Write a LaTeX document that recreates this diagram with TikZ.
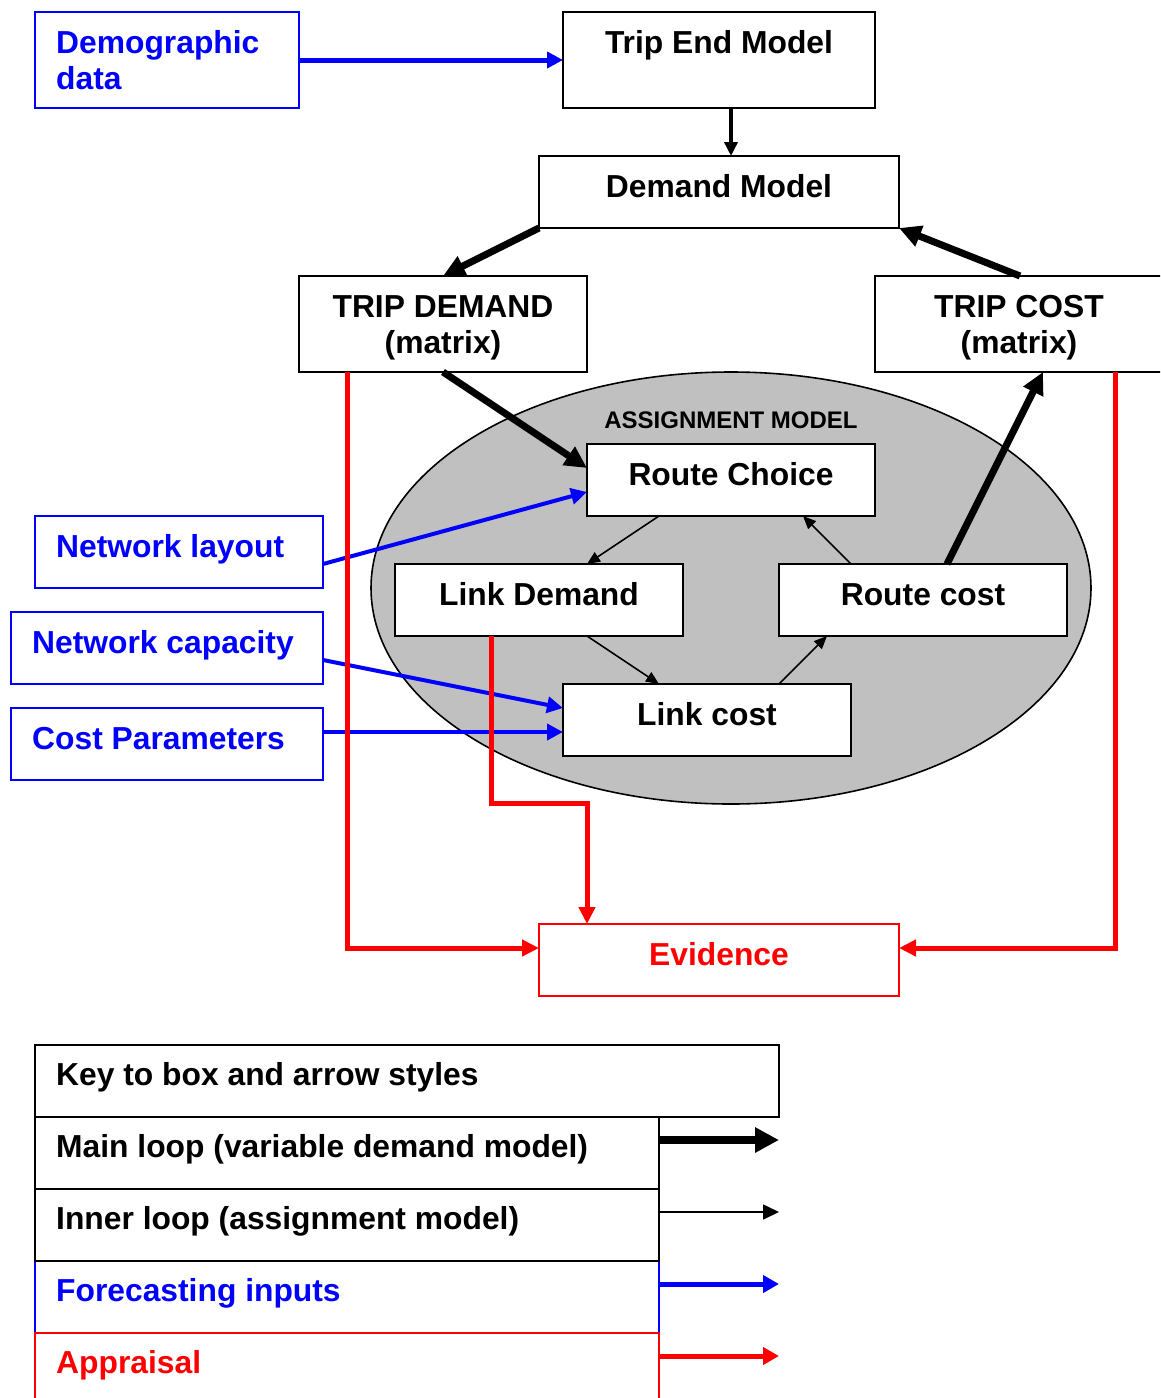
\documentclass[tikz,border=0pt]{standalone}
\usepackage{fontspec}
\setmainfont{Liberation Sans}
\usetikzlibrary{arrows.meta,shapes.geometric}
\definecolor{pblue}{RGB}{0,0,255}
\definecolor{pred}{RGB}{255,0,0}
\definecolor{egray}{RGB}{192,192,192}
\begin{document}
\begin{tikzpicture}[x=1pt,y=-1pt,
  box/.style={draw=black, line width=2.2pt, fill=white, inner sep=0pt, outer sep=0pt, anchor=north west},
  bbox/.style={box, draw=pblue},
  rbox/.style={box, draw=pred},
  txt/.style={font=\fontsize{31.8}{36}\selectfont\bfseries, inner sep=0pt, anchor=base},
  txtl/.style={txt, anchor=base west},
  thickarr/.style={line width=7pt, -{Triangle[length=22pt,width=21pt]}},
  medarr/.style={line width=3.5pt, -{Triangle[length=14pt,width=13pt]}},
  thinarr/.style={line width=1.6pt, -{Triangle[length=13pt,width=11pt]}},
  bluearr/.style={draw=pblue, line width=4pt, -{Triangle[length=16pt,width=16pt]}},
  redarr/.style={draw=pred, line width=5pt, -{Triangle[length=17pt,width=16pt]}}
]
\clip (0,0) rectangle (1160,1398);
\useasboundingbox (0,0) rectangle (1160,1398);

% assignment ellipse
\node[ellipse, draw=black, line width=1.6pt, fill=egray, minimum width=720pt, minimum height=432pt, inner sep=0pt] (assign) at (731,588) {};
\node[font=\fontsize{24}{27}\selectfont\bfseries, inner sep=0pt, anchor=base] (assignlbl) at (731,428) {ASSIGNMENT MODEL};

% boxes
\node[bbox, minimum width=264pt, minimum height=96pt] (demog) at (35,12) {};
\node[txtl, text=pblue] (demogA) at (56,53) {Demographic};
\node[txtl, text=pblue] (demogB) at (56,89) {data};

\node[box, minimum width=312pt, minimum height=96pt] (tripend) at (563,12) {};
\node[txt] (tripendT) at (719,53) {Trip End Model};

\node[box, minimum width=360pt, minimum height=72pt] (demand) at (539,156) {};
\node[txt] (demandT) at (719,197) {Demand Model};

\node[box, minimum width=288pt, minimum height=96pt] (tdem) at (299,276) {};
\node[txt] (tdemA) at (443,317) {TRIP DEMAND};
\node[txt] (tdemB) at (443,353) {(matrix)};

\node[box, minimum width=290pt, minimum height=96pt] (tcost) at (875,276) {};
\node[txt] (tcostA) at (1019,317) {TRIP COST};
\node[txt] (tcostB) at (1019,353) {(matrix)};

\node[box, minimum width=288pt, minimum height=72pt] (route) at (587,444) {};
\node[txt] (routeT) at (731,485) {Route Choice};

\node[box, minimum width=288pt, minimum height=72pt] (ldem) at (395,564) {};
\node[txt] (ldemT) at (539,605) {Link Demand};

\node[box, minimum width=288pt, minimum height=72pt] (rcost) at (779,564) {};
\node[txt] (rcostT) at (923,605) {Route cost};

\node[box, minimum width=288pt, minimum height=72pt] (lcost) at (563,684) {};
\node[txt] (lcostT) at (707,725) {Link cost};

\node[bbox, minimum width=288pt, minimum height=72pt] (netlay) at (35,516) {};
\node[txtl, text=pblue] (netlayT) at (56,557) {Network layout};

\node[bbox, minimum width=312pt, minimum height=72pt] (netcap) at (11,612) {};
\node[txtl, text=pblue] (netcapT) at (32,653) {Network capacity};

\node[bbox, minimum width=312pt, minimum height=72pt] (costpar) at (11,708) {};
\node[txtl, text=pblue] (costparT) at (32,749) {Cost Parameters};

\node[rbox, minimum width=360pt, minimum height=72pt] (evid) at (539,924) {};
\node[txt, text=pred] (evidT) at (719,965) {Evidence};

% black connectors
\draw[medarr] ([xshift=12pt]tripend.south) -- ([xshift=12pt]demand.north);
\draw[thickarr] (demand.south west) -- (tdem.north);
\draw[thickarr] (tcost.north) -- (demand.south east);
\draw[thickarr] (tdem.south) -- ([yshift=12pt]route.west);
\draw[thickarr] ([xshift=24pt]rcost.north) -- ([xshift=23pt]tcost.south);
\draw[thinarr] ([xshift=-72pt]route.south) -- ([xshift=48pt]ldem.north);
\draw[thinarr] ([xshift=48pt]ldem.south) -- ([xshift=-48pt]lcost.north);
\draw[thinarr] ([xshift=72pt]lcost.north) -- ([xshift=-96pt]rcost.south);
\draw[thinarr] ([xshift=-72pt]rcost.north) -- ([xshift=72pt]route.south);

% blue connectors
\draw[bluearr, line width=5pt] (demog.east) -- (tripend.west);
\draw[bluearr] ([yshift=-12pt]netlay.east) -- ([yshift=-12pt]route.west);
\draw[bluearr] ([yshift=-12pt]netcap.east) -- ([yshift=12pt]lcost.west);
\draw[bluearr] ([yshift=12pt]costpar.east) -- ([yshift=-12pt]lcost.west);

% red connectors
\draw[redarr] ([xshift=-96pt]tdem.south) |- ([yshift=12pt]evid.west);
\draw[redarr] ([xshift=95pt]tcost.south) |- ([yshift=12pt]evid.east);
\draw[redarr] ([xshift=-48pt]ldem.south) -- ++(0,167) -| ([xshift=-132pt]evid.north);

% key
\node[box, draw=pblue, line width=1.6pt, minimum width=624pt, minimum height=72pt] (kfore) at (35,1261) {};
\node[box, draw=pred, line width=1.6pt, minimum width=624pt, minimum height=72pt] (kappr) at (35,1333) {};
\node[box, minimum width=624pt, minimum height=72pt] (kinner) at (35,1189) {};
\node[box, minimum width=624pt, minimum height=72pt] (kmain) at (35,1117) {};
\node[box, minimum width=744pt, minimum height=72pt] (khead) at (35,1045) {};
\node[txtl] (kheadT) at (56,1085) {Key to box and arrow styles};
\node[txtl] (kmainT) at (56,1157) {Main loop (variable demand model)};
\node[txtl] (kinnerT) at (56,1229) {Inner loop (assignment model)};
\node[txtl, text=pblue] (kforeT) at (56,1301) {Forecasting inputs};
\node[txtl, text=pred] (kapprT) at (56,1373) {Appraisal};

\coordinate (e1) at (779,1140);
\coordinate (e2) at (779,1212);
\coordinate (e3) at (779,1284);
\coordinate (e4) at (779,1356);
\draw[line width=8pt, -{Triangle[length=24pt,width=24pt]}] ([yshift=13pt]kmain.east) -- (e1);
\draw[line width=1.6pt, -{Triangle[length=16pt,width=15pt]}] ([yshift=13pt]kinner.east) -- (e2);
\draw[draw=pblue, line width=5pt, -{Triangle[length=16pt,width=17pt]}] ([yshift=13pt]kfore.east) -- (e3);
\draw[draw=pred, line width=5pt, -{Triangle[length=16pt,width=17pt]}] ([yshift=13pt]kappr.east) -- (e4);
\end{tikzpicture}
\end{document}
